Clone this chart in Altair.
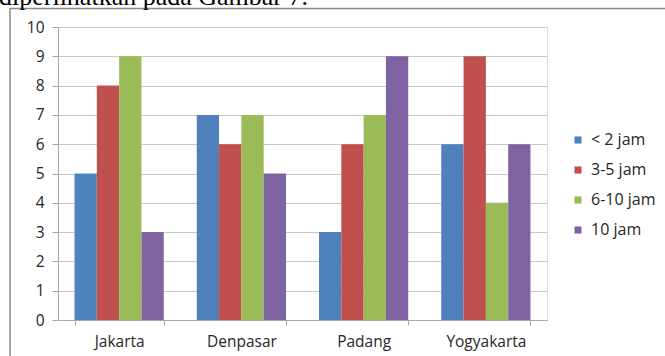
import altair as alt
import pandas as pd

cities = ["Jakarta", "Denpasar", "Padang", "Yogyakarta"]
groups = ["< 2 jam", "3-5 jam", "6-10 jam", "10 jam"]
colors = ["#4F81BD", "#C0504D", "#9BBB59", "#8064A2"]
values = {
    "< 2 jam": [5, 7, 3, 6],
    "3-5 jam": [8, 6, 6, 9],
    "6-10 jam": [9, 7, 7, 4],
    "10 jam": [3, 5, 9, 6],
}
y_ticks = list(range(0, 11))
caption = "diperlihatkan pada Gambar 7."

rows = []
for g in groups:
    for c, v in zip(cities, values[g]):
        rows.append({"kota": c, "kelompok": g, "nilai": v})
df = pd.DataFrame(rows)

FONT = "Open Sans"

bars = alt.Chart(df).mark_bar(stroke=None).encode(
    x=alt.X("kota:N", sort=cities,
            scale=alt.Scale(paddingInner=0.27, paddingOuter=0.135),
            axis=alt.Axis(title=None, labelAngle=0, tickBand="extent",
                          tickSize=5, tickColor="#a6a6a6", domainColor="#a6a6a6",
                          labelFont=FONT, labelFontSize=15.5, labelColor="#262626",
                          labelPadding=9, grid=False)),
    xOffset=alt.XOffset("kelompok:N", sort=groups, scale=alt.Scale(domain=groups, paddingInner=0, paddingOuter=0)),
    y=alt.Y("nilai:Q", scale=alt.Scale(domain=[0, 10], nice=False),
            axis=alt.Axis(title=None, values=y_ticks, tickSize=6, tickColor="#a6a6a6",
                          domainColor="#a6a6a6", gridColor="#c8c8c8", gridWidth=1,
                          labelFont=FONT, labelFontSize=15.5, labelColor="#262626",
                          labelPadding=8)),
    color=alt.Color("kelompok:N", sort=groups,
                    scale=alt.Scale(domain=groups, range=colors),
                    legend=alt.Legend(title=None, orient="none", legendX=512, legendY=105,
                                      symbolType="square", symbolSize=50, symbolStrokeWidth=0,
                                      labelFont=FONT, labelFontSize=16, labelColor="#262626",
                                      rowPadding=14, labelOffset=5)),
)

one = pd.DataFrame({"t": [caption]})

frame = alt.Chart(one).mark_rect(fill=None, stroke="#8a8a8a", strokeWidth=1.5).encode(
    x=alt.value(-48), x2=alt.value(640), y=alt.value(-18.5), y2=alt.value(360)
)

cap = alt.Chart(one).mark_text(align="left", baseline="alphabetic",
                               font="Liberation Serif", fontSize=26, color="#000000").encode(
    x=alt.value(-59), y=alt.value(-22.5), text="t:N"
)

chart = alt.layer(bars, frame, cap).properties(
    width=489, height=293,
    autosize=alt.AutoSizeParams(type="none"),
    padding={"left": 58, "top": 27, "right": 118, "bottom": 36},
).configure_view(stroke=None).configure(background="white")

chart.save("out.html", embed_options={"renderer": "svg", "actions": False})
